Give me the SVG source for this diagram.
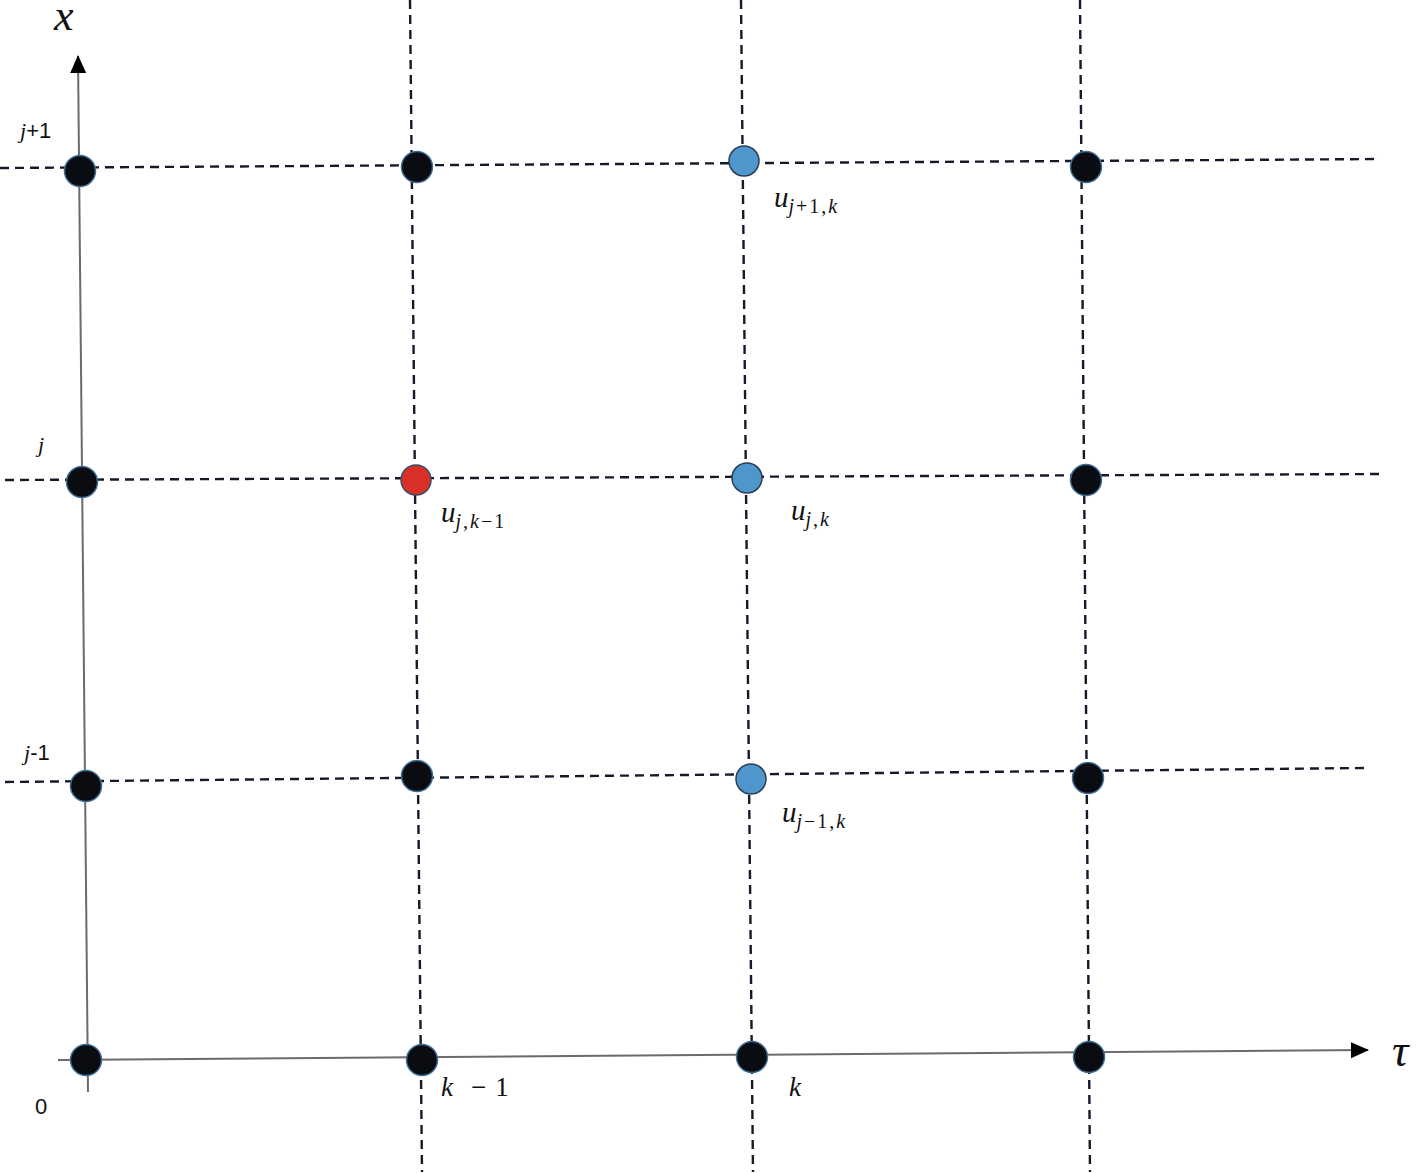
<svg xmlns="http://www.w3.org/2000/svg" width="1418" height="1173" viewBox="0 0 1418 1173">
<style>
.dash{stroke:#141a2a;stroke-width:2.4;stroke-dasharray:9 6;fill:none}
.axis{stroke:#6a6a70;stroke-width:2;fill:none}
.blk{fill:#0b0b12;stroke:#3f6f95;stroke-width:1.5}
.blu{fill:#4e96cc;stroke:#2c3e55;stroke-width:1.5}
.red{fill:#d93128;stroke:#3a4e66;stroke-width:1.5}
.lbl{font-family:"Liberation Serif","DejaVu Serif",serif;font-style:italic;fill:#111}
.num{font-family:"Liberation Sans","Open Sans",sans-serif;fill:#111}
.sub{font-size:20px;letter-spacing:2px}
</style>
<defs>
<marker id="ahb" markerWidth="18" markerHeight="18" refX="17" refY="9" orient="auto" markerUnits="userSpaceOnUse" viewBox="0 0 18 18">
<path d="M0,1 L18,9 L0,17 Z" fill="#000"/>
</marker>
</defs>
<rect width="1418" height="1173" fill="#fff"/>
<g id="connectors">
<line class="dash" x1="0" y1="168" x2="1380" y2="159"/>
<line class="dash" x1="5" y1="480" x2="1382" y2="474"/>
<line class="dash" x1="5" y1="782" x2="1365" y2="768"/>
<line class="dash" x1="410" y1="0" x2="422" y2="1172"/>
<line class="dash" x1="741" y1="0" x2="753" y2="1172"/>
<line class="dash" x1="1080" y1="0" x2="1090" y2="1172"/>
<line class="axis" x1="88" y1="1092" x2="78" y2="56" marker-end="url(#ahb)"/>
<line class="axis" x1="58" y1="1060" x2="1368" y2="1050" marker-end="url(#ahb)"/>
</g>
<g id="n-0-top"><circle class="blk" cx="80" cy="171" r="15.5"/></g>
<g id="n-1-top"><circle class="blk" cx="417" cy="167" r="15.5"/></g>
<g id="n-2-top"><circle class="blu" cx="744" cy="161" r="15"/></g>
<g id="n-3-top"><circle class="blk" cx="1086" cy="167" r="15.5"/></g>
<g id="n-0-mid"><circle class="blk" cx="82" cy="482" r="15.5"/></g>
<g id="n-1-mid"><circle class="red" cx="416" cy="480" r="15"/></g>
<g id="n-2-mid"><circle class="blu" cx="747" cy="478" r="15"/></g>
<g id="n-3-mid"><circle class="blk" cx="1086" cy="480" r="15.5"/></g>
<g id="n-0-low"><circle class="blk" cx="86" cy="786" r="15.5"/></g>
<g id="n-1-low"><circle class="blk" cx="417" cy="776" r="15.5"/></g>
<g id="n-2-low"><circle class="blu" cx="751" cy="779" r="15"/></g>
<g id="n-3-low"><circle class="blk" cx="1088" cy="778" r="15.5"/></g>
<g id="n-0-bot"><circle class="blk" cx="86" cy="1060" r="15.5"/></g>
<g id="n-1-bot"><circle class="blk" cx="422" cy="1060" r="15.5"/></g>
<g id="n-2-bot"><circle class="blk" cx="752" cy="1057" r="15.5"/></g>
<g id="n-3-bot"><circle class="blk" cx="1089" cy="1057" r="15.5"/></g>
<g id="labels">
<text class="lbl" x="54" y="30" font-size="44">x</text>
<text class="lbl" x="1392" y="1066" font-size="46">τ</text>
<text class="lbl" x="20" y="138" font-size="22">j<tspan font-style="normal" font-family="Liberation Sans,sans-serif">+1</tspan></text>
<text class="lbl" x="38" y="452" font-size="22">j</text>
<text class="lbl" x="24" y="760" font-size="22">j<tspan font-style="normal" font-family="Liberation Sans,sans-serif">-1</tspan></text>
<text class="num" x="35" y="1114" font-size="22">0</text>
<text class="lbl" x="441" y="1096" font-size="27">k<tspan dx="18" font-style="normal">−</tspan><tspan dx="9" font-style="normal">1</tspan></text>
<text class="lbl" x="789" y="1096" font-size="27">k</text>
<text class="lbl" x="774" y="207" font-size="29">u<tspan class="sub" dy="6">j<tspan font-style="normal">+1,</tspan>k</tspan></text>
<text class="lbl" x="791" y="520" font-size="29">u<tspan class="sub" dy="6">j<tspan font-style="normal">,</tspan>k</tspan></text>
<text class="lbl" x="441" y="522" font-size="29">u<tspan class="sub" dy="6">j<tspan font-style="normal">,</tspan>k<tspan font-style="normal">−1</tspan></tspan></text>
<text class="lbl" x="782" y="822" font-size="29">u<tspan class="sub" dy="6">j<tspan font-style="normal">−1,</tspan>k</tspan></text>
</g>
</svg>
